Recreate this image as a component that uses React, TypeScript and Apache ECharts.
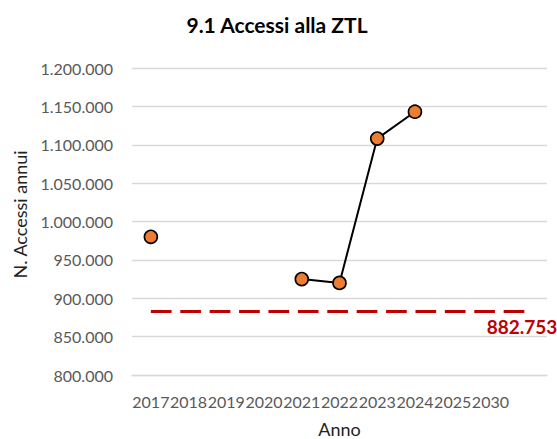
import React, { useEffect, useRef } from "react";
import * as echarts from "echarts";

const categories = ["2017", "2018", "2019", "2020", "2021", "2022", "2023", "2024", "2025", "2030", ""];
const accessi: (number | null)[] = [980000, null, null, null, 925000, 920000, 1108000, 1143000, null, null, null];
const obiettivo = 882753;
const yTicks = { min: 800000, max: 1200000, interval: 50000 };

const fmt = (v: number) => String(Math.round(v)).replace(/\B(?=(\d{3})+(?!\d))/g, ".");

export default function App() {
  const ref = useRef<HTMLDivElement>(null);
  useEffect(() => {
    if (!ref.current) return;
    const chart = echarts.init(ref.current, null, { renderer: "svg" });
    const targetData = categories.map((_, i) =>
      i === categories.length - 1
        ? {
            value: obiettivo,
            label: {
              show: true,
              position: [-41, 6],
              formatter: (p: any) => fmt(p.value),
              color: "#C00000",
              fontWeight: "bold",
              fontSize: 19,
              fontFamily: "Lato",
            },
          }
        : obiettivo
    );
    chart.setOption({
      animation: false,
      backgroundColor: "#ffffff",
      title: {
        text: "9.1 Accessi alla ZTL",
        left: 272,
        top: 9,
        textAlign: "center",
        textStyle: { fontFamily: "Lato", fontWeight: "bold", fontSize: 21, color: "#000" },
      },
      grid: { left: 132, right: 10, top: 68, bottom: 64, containLabel: false, outerBoundsMode: "none" },
      xAxis: {
        type: "category",
        data: categories,
        boundaryGap: true,
        name: "Anno",
        nameLocation: "middle",
        nameGap: 46,
        nameTextStyle: { fontFamily: "Lato", fontSize: 18, lineHeight: 16, color: "#222" },
        axisLine: { lineStyle: { color: "#d9d9d9", width: 1.3 } },
        axisTick: { show: false },
        axisLabel: { interval: 0, margin: 18, fontFamily: "Lato", fontSize: 16, color: "#595959" },
      },
      yAxis: {
        type: "value",
        min: yTicks.min,
        max: yTicks.max,
        interval: yTicks.interval,
        name: "N. Accessi annui",
        nameLocation: "middle",
        nameGap: 103,
        nameTextStyle: { fontFamily: "Lato", fontSize: 18, color: "#222", padding: [0, 0, 0, 14] },
        axisLine: { show: false },
        axisTick: { show: false },
        splitLine: { lineStyle: { color: "#d9d9d9", width: 1.3 } },
        axisLabel: { margin: 19, fontFamily: "Lato", fontSize: 16, color: "#595959", formatter: (v: number) => fmt(v) },
      },
      series: [
        {
          type: "line",
          data: targetData,
          symbol: "circle",
          symbolSize: 1,
          showSymbol: true,
          itemStyle: { color: "rgba(0,0,0,0)" },
          lineStyle: { color: "#C00000", width: 3, type: [20.7, 8.7] },
          z: 1,
        },
        {
          type: "line",
          data: accessi,
          connectNulls: false,
          symbol: "circle",
          symbolSize: 13,
          showSymbol: true,
          itemStyle: { color: "#ED7D31", borderColor: "#000", borderWidth: 1.6 },
          lineStyle: { color: "#000", width: 2 },
          z: 3,
        },
      ],
    });
    return () => chart.dispose();
  }, []);
  return <div ref={ref} style={{ position: "absolute", left: 0, top: 0, width: 557, height: 439 }} />;
}
